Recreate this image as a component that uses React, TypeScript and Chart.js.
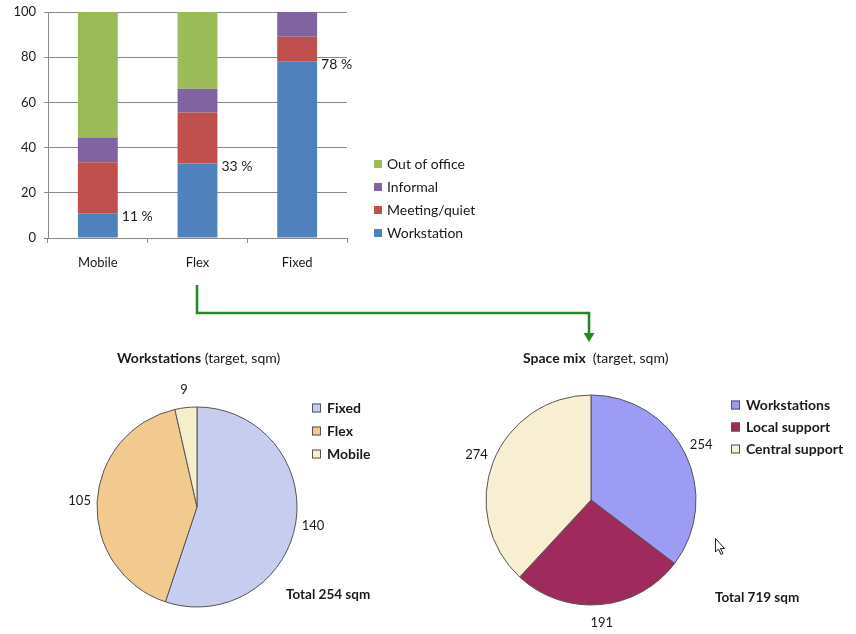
import React, { useEffect, useRef } from 'react';
import { Chart, registerables } from 'chart.js';

Chart.register(...registerables);

const FONT = 'Lato, "Open Sans", sans-serif';
const TEXT = '#1a1a1a';
const AXIS = '#8a8a8a';

// ---- Bar chart data ----
const barCategories = ['Mobile', 'Flex', 'Fixed'];
const workstation = [11, 33, 78];
const meetingQuiet = [22.5, 22.5, 11];
const informal = [11, 10.5, 11];
const outOfOffice = [55.5, 34, 0];
const pctLabels = ['11 %', '33 %', '78 %'];
const yTicks = [0, 20, 40, 60, 80, 100];
const barSeriesNames = ['Workstation', 'Meeting/quiet', 'Informal', 'Out of office'];
const barColors = ['#4F81BD', '#C0504D', '#8064A2', '#9BBB59'];

// ---- Pie 1 data ----
const wsLabels = ['Fixed', 'Flex', 'Mobile'];
const wsValues = [140, 105, 9];
const wsColors = ['#C6CDEE', '#F2C98F', '#F6EDCB'];

// ---- Pie 2 data ----
const mixLabels = ['Workstations', 'Local support', 'Central support'];
const mixValues = [254, 191, 274];
const mixColors = ['#9C9CF4', '#9E2A5E', '#F8EED1'];

function BarChart() {
  const ref = useRef<HTMLCanvasElement>(null);
  useEffect(() => {
    const series = [workstation, meetingQuiet, informal, outOfOffice];
    const labelPlugin = {
      id: 'pctLabels',
      afterDatasetsDraw(chart: any) {
        const ctx = chart.ctx;
        const meta = chart.getDatasetMeta(0);
        ctx.save();
        ctx.font = `14px ${FONT}`;
        ctx.fillStyle = TEXT;
        ctx.textAlign = 'left';
        ctx.textBaseline = 'middle';
        meta.data.forEach((bar: any, i: number) => {
          const p = bar.getProps(['x', 'y', 'width'], true);
          ctx.fillText(pctLabels[i], p.x + p.width / 2 + 4, p.y + 3);
        });
        // legend (reversed order)
        const order = [3, 2, 1, 0];
        const rowsY = [164, 187, 210, 233];
        order.forEach((si, k) => {
          const y = rowsY[k];
          ctx.fillStyle = barColors[si];
          ctx.fillRect(374, y - 4, 8, 8);
          ctx.fillStyle = TEXT;
          ctx.fillText(barSeriesNames[si], 387, y);
        });
        ctx.restore();
      },
    };
    const chart = new Chart(ref.current!, {
      type: 'bar',
      data: {
        labels: barCategories,
        datasets: series.map((d, i) => ({
          label: barSeriesNames[i],
          data: d,
          backgroundColor: barColors[i],
          borderWidth: 0,
          categoryPercentage: 1,
          barPercentage: 0.4,
        })),
      },
      options: {
        animation: false,
        responsive: false,
        devicePixelRatio: 1,
        layout: { padding: { left: 0, top: 12, right: 133, bottom: 0 } },
        plugins: { legend: { display: false }, tooltip: { enabled: false } },
        scales: {
          x: {
            stacked: true,
            grid: { display: true, drawOnChartArea: false, tickLength: 5, color: AXIS, offset: true },
            border: { color: AXIS },
            ticks: { font: { family: FONT, size: 13 }, color: TEXT, padding: 12 },
            afterFit: (s: any) => { s.height = 42; s.paddingLeft = 0; s.paddingRight = 0; },
          },
          y: {
            stacked: true,
            min: 0,
            max: 100,
            afterBuildTicks: (s: any) => { s.ticks = yTicks.map((v) => ({ value: v })); },
            ticks: { font: { family: FONT, size: 13 }, color: TEXT, padding: 8 },
            grid: { color: AXIS, tickLength: 4 },
            border: { color: AXIS },
            afterFit: (s: any) => { s.width = 48; s.paddingTop = 0; s.paddingBottom = 0; },
          },
        },
      },
      plugins: [labelPlugin],
    } as any);
    return () => chart.destroy();
  }, []);
  return (
    <canvas
      ref={ref}
      width={480}
      height={280}
      style={{ position: 'absolute', left: 0, top: 0, width: 480, height: 280 }}
    />
  );
}

type PieProps = {
  left: number;
  top: number;
  width: number;
  height: number;
  labels: string[];
  values: number[];
  colors: string[];
  radius: number;
  padding: { left: number; right: number; top: number; bottom: number };
  titleBold: string;
  titleRest: string;
  titleX: number;
  titleY: number;
  legendX: number;
  legendRows: number[];
  totalText: string;
  totalX: number;
  totalY: number;
  labelOffset: number;
};

function PieChart(props: PieProps) {
  const ref = useRef<HTMLCanvasElement>(null);
  useEffect(() => {
    const p = props;
    const deco = {
      id: 'pieDeco',
      afterDatasetsDraw(chart: any) {
        const ctx = chart.ctx;
        ctx.save();
        // value labels
        ctx.font = `13px ${FONT}`;
        ctx.fillStyle = TEXT;
        ctx.textAlign = 'center';
        ctx.textBaseline = 'middle';
        const meta = chart.getDatasetMeta(0);
        meta.data.forEach((arc: any, i: number) => {
          const a = arc.getProps(['x', 'y', 'startAngle', 'endAngle', 'outerRadius'], true);
          const mid = (a.startAngle + a.endAngle) / 2;
          const r = a.outerRadius + p.labelOffset;
          ctx.fillText(String(p.values[i]), a.x + Math.cos(mid) * r, a.y + Math.sin(mid) * r);
        });
        // title
        ctx.textAlign = 'left';
        ctx.font = `bold 14px ${FONT}`;
        ctx.fillText(p.titleBold, p.titleX, p.titleY);
        const w = ctx.measureText(p.titleBold).width;
        ctx.font = `14px ${FONT}`;
        ctx.fillText(p.titleRest, p.titleX + w, p.titleY);
        // legend
        ctx.font = `bold 14px ${FONT}`;
        p.labels.forEach((lab, i) => {
          const y = p.legendRows[i];
          ctx.fillStyle = p.colors[i];
          ctx.fillRect(p.legendX, y - 4.5, 9, 9);
          ctx.strokeStyle = '#555';
          ctx.lineWidth = 1;
          ctx.strokeRect(p.legendX + 0.5, y - 4, 8, 8);
          ctx.fillStyle = TEXT;
          ctx.fillText(lab, p.legendX + 15, y);
        });
        // total
        ctx.font = `bold 13.5px ${FONT}`;
        ctx.fillText(p.totalText, p.totalX, p.totalY);
        ctx.restore();
      },
    };
    const chart = new Chart(ref.current!, {
      type: 'pie',
      data: {
        labels: p.labels,
        datasets: [
          {
            data: p.values,
            backgroundColor: p.colors,
            borderColor: '#555555',
            borderWidth: 1,
          },
        ],
      },
      options: {
        animation: false,
        responsive: false,
        devicePixelRatio: 1,
        radius: p.radius,
        layout: { padding: p.padding },
        plugins: { legend: { display: false }, tooltip: { enabled: false } },
      },
      plugins: [deco],
    } as any);
    return () => chart.destroy();
  }, []);
  return (
    <canvas
      ref={ref}
      width={props.width}
      height={props.height}
      style={{ position: 'absolute', left: props.left, top: props.top, width: props.width, height: props.height }}
    />
  );
}

export default function App() {
  return (
    <div
      style={{
        position: 'fixed',
        left: 0,
        top: 0,
        width: 856,
        height: 634,
        background: '#fff',
        overflow: 'hidden',
      }}
    >
      <BarChart />
      <PieChart
        left={0}
        top={330}
        width={430}
        height={304}
        labels={wsLabels}
        values={wsValues}
        colors={wsColors}
        radius={100}
        padding={{ left: 0, right: 36, top: 70, bottom: 20 }}
        titleBold="Workstations"
        titleRest=" (target, sqm)"
        titleX={117}
        titleY={28}
        legendX={312}
        legendRows={[78, 101, 124]}
        totalText="Total 254 sqm"
        totalX={286}
        totalY={265}
        labelOffset={17.5}
      />
      <PieChart
        left={440}
        top={330}
        width={416}
        height={304}
        labels={mixLabels}
        values={mixValues}
        colors={mixColors}
        radius={105}
        padding={{ left: 0, right: 114, top: 60, bottom: 24 }}
        titleBold="Space mix"
        titleRest="  (target, sqm)"
        titleX={83}
        titleY={28}
        legendX={291}
        legendRows={[75, 97, 119]}
        totalText="Total 719 sqm"
        totalX={275}
        totalY={268}
        labelOffset={18}
      />
      <svg
        width={856}
        height={634}
        style={{ position: 'absolute', left: 0, top: 0, pointerEvents: 'none' }}
      >
        <polyline
          points="197,285 197,313 589,313 589,334"
          fill="none"
          stroke="#1f8a1f"
          strokeWidth={2.5}
        />
        <polygon points="583.5,333 594.5,333 589,342" fill="#1f8a1f" />
        <polygon
          points="715.5,538.5 715.5,552 718.5,549 721,554.5 723,553.5 720.5,548.5 724.5,548.5"
          fill="#fff"
          stroke="#222"
          strokeWidth={1}
        />
      </svg>
    </div>
  );
}
